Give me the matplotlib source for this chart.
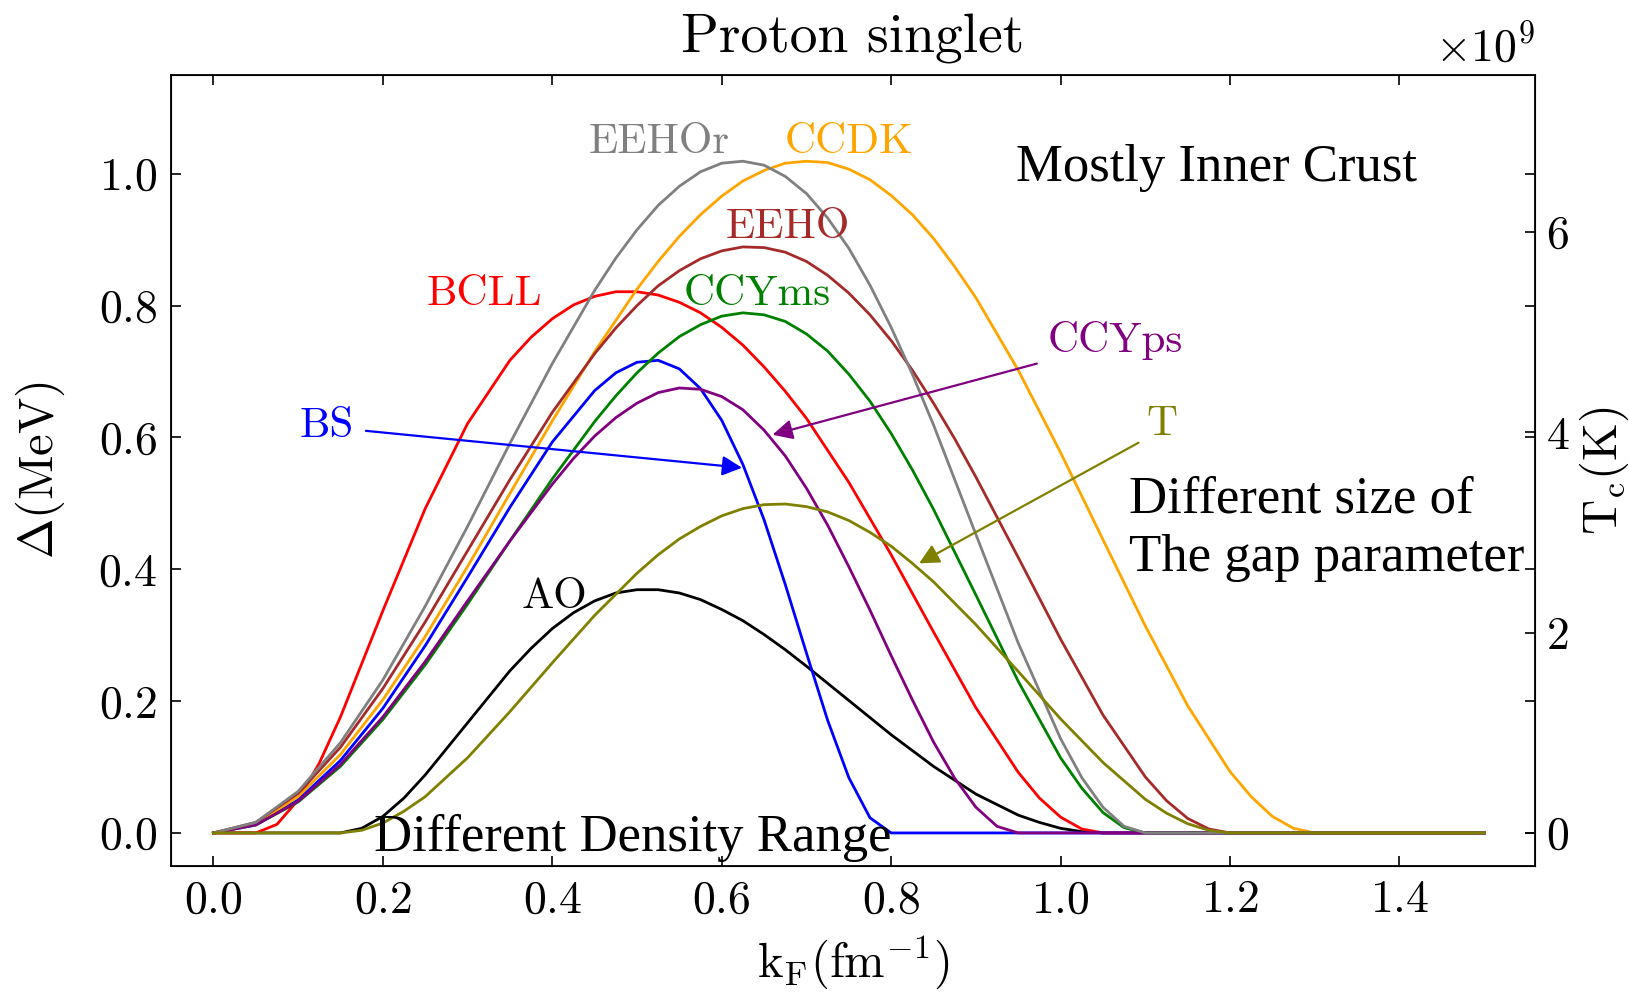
import matplotlib
matplotlib.use('Agg')
import matplotlib.pyplot as plt
from matplotlib.ticker import MultipleLocator

plt.rcParams['font.family'] = 'serif'
plt.rcParams['font.serif'] = ['cmr10']
plt.rcParams['mathtext.fontset'] = 'cm'
plt.rcParams['axes.formatter.use_mathtext'] = True
plt.rcParams['axes.unicode_minus'] = False

# gap curves: kF in fm^-1, Delta in MeV
# (finer steps where the curves bend the most)
kf_ao = [0, 0.15, 0.175, 0.20, 0.225, 0.25, 0.30, 0.35, 0.375, 0.40, 0.425, 0.45, 0.475, 0.50, 0.525, 0.55,
         0.575, 0.60, 0.625, 0.65, 0.675, 0.70, 0.75, 0.80, 0.85, 0.90, 0.95, 0.975, 1.00, 1.025, 1.05, 1.50]
AO = [0, 0, 0.007, 0.025, 0.053, 0.088, 0.167, 0.246, 0.280, 0.310, 0.334, 0.352, 0.364, 0.369, 0.369, 0.364,
      0.354, 0.339, 0.322, 0.301, 0.278, 0.253, 0.201, 0.149, 0.101, 0.059, 0.027, 0.016, 0.007, 0.002, 0, 0]

kf_bcll = [0, 0.05, 0.075, 0.10, 0.125, 0.15, 0.20, 0.25, 0.30, 0.35, 0.375, 0.40, 0.425, 0.45, 0.475, 0.50, 0.525,
           0.55, 0.575, 0.60, 0.625, 0.65, 0.675, 0.70, 0.75, 0.80, 0.85, 0.90, 0.95, 0.975, 1.00, 1.025, 1.05, 1.50]
BCLL = [0, 0, 0.013, 0.050, 0.106, 0.176, 0.337, 0.492, 0.621, 0.717, 0.752, 0.780, 0.801, 0.814, 0.821, 0.821, 0.816,
        0.805, 0.789, 0.767, 0.740, 0.707, 0.670, 0.629, 0.532, 0.422, 0.305, 0.190, 0.092, 0.053, 0.024, 0.006, 0, 0]

kf_bs = [0, 0.05, 0.10, 0.15, 0.20, 0.25, 0.30, 0.35, 0.40, 0.45, 0.475, 0.50, 0.525, 0.55,
         0.575, 0.60, 0.625, 0.65, 0.675, 0.70, 0.725, 0.75, 0.775, 0.80, 1.50]
BS = [0, 0.013, 0.050, 0.110, 0.189, 0.284, 0.388, 0.494, 0.593, 0.671, 0.698, 0.714, 0.717, 0.704,
      0.674, 0.626, 0.559, 0.475, 0.377, 0.273, 0.171, 0.084, 0.023, 0, 0]

kf_ccdk = [0, 0.05, 0.10, 0.15, 0.20, 0.25, 0.30, 0.35, 0.40, 0.45, 0.50, 0.525, 0.55, 0.575, 0.60, 0.625, 0.65,
           0.675, 0.70, 0.725, 0.75, 0.775, 0.80, 0.825, 0.85, 0.875, 0.90, 0.95, 1.00, 1.05, 1.10, 1.15, 1.20,
           1.225, 1.25, 1.275, 1.30, 1.50]
CCDK = [0, 0.014, 0.055, 0.119, 0.202, 0.298, 0.404, 0.515, 0.625, 0.730, 0.825, 0.867, 0.905, 0.938, 0.966, 0.989, 1.005,
        1.016, 1.019, 1.017, 1.007, 0.991, 0.967, 0.938, 0.902, 0.859, 0.812, 0.702, 0.577, 0.445, 0.314, 0.193, 0.093,
        0.055, 0.025, 0.007, 0, 0]

kf_ccyms = [0, 0.05, 0.10, 0.15, 0.20, 0.25, 0.30, 0.35, 0.40, 0.45, 0.475, 0.50, 0.525, 0.55, 0.575, 0.60, 0.625,
            0.65, 0.675, 0.70, 0.725, 0.75, 0.775, 0.80, 0.825, 0.85, 0.90, 0.95, 1.00, 1.025, 1.05, 1.075, 1.10, 1.50]
CCYms = [0, 0.012, 0.047, 0.101, 0.172, 0.255, 0.347, 0.443, 0.537, 0.624, 0.663, 0.698, 0.728, 0.753, 0.771, 0.784, 0.789,
         0.786, 0.776, 0.757, 0.731, 0.696, 0.655, 0.606, 0.551, 0.491, 0.361, 0.230, 0.114, 0.068, 0.031, 0.008, 0, 0]

kf_ccyps = [0, 0.05, 0.10, 0.15, 0.20, 0.25, 0.30, 0.35, 0.40, 0.425, 0.45, 0.475, 0.50, 0.525, 0.55, 0.575, 0.60,
            0.625, 0.65, 0.675, 0.70, 0.725, 0.75, 0.775, 0.80, 0.825, 0.85, 0.875, 0.90, 0.925, 0.95, 1.50]
CCYps = [0, 0.012, 0.048, 0.104, 0.176, 0.260, 0.352, 0.443, 0.529, 0.568, 0.602, 0.630, 0.652, 0.668, 0.675, 0.673, 0.662,
         0.642, 0.611, 0.572, 0.523, 0.467, 0.404, 0.338, 0.269, 0.202, 0.138, 0.083, 0.039, 0.010, 0, 0]

kf_eeho = [0, 0.05, 0.10, 0.15, 0.20, 0.25, 0.30, 0.35, 0.40, 0.45, 0.475, 0.50, 0.525, 0.55, 0.575, 0.60, 0.625,
           0.65, 0.675, 0.70, 0.725, 0.75, 0.775, 0.80, 0.825, 0.85, 0.875, 0.90, 0.95, 1.00, 1.05, 1.10,
           1.125, 1.15, 1.175, 1.20, 1.50]
EEHO = [0, 0.016, 0.060, 0.130, 0.219, 0.320, 0.428, 0.536, 0.638, 0.727, 0.766, 0.800, 0.830, 0.853, 0.871, 0.883, 0.889,
        0.888, 0.881, 0.867, 0.846, 0.819, 0.786, 0.747, 0.702, 0.652, 0.598, 0.540, 0.418, 0.294, 0.179, 0.085,
        0.049, 0.022, 0.006, 0, 0]

kf_eehor = [0, 0.05, 0.10, 0.15, 0.20, 0.25, 0.30, 0.35, 0.40, 0.45, 0.475, 0.50, 0.525, 0.55, 0.575, 0.60, 0.625,
            0.65, 0.675, 0.70, 0.725, 0.75, 0.775, 0.80, 0.825, 0.85, 0.90, 0.95, 1.00, 1.025, 1.05, 1.075, 1.10, 1.50]
EEHOr = [0, 0.016, 0.063, 0.137, 0.232, 0.344, 0.465, 0.591, 0.712, 0.823, 0.872, 0.915, 0.952, 0.981, 1.003, 1.016, 1.019,
         1.013, 0.996, 0.970, 0.933, 0.887, 0.831, 0.767, 0.696, 0.619, 0.453, 0.288, 0.143, 0.084, 0.039, 0.010, 0, 0]

kf_t = [0, 0.15, 0.175, 0.20, 0.225, 0.25, 0.30, 0.35, 0.40, 0.45, 0.50, 0.525, 0.55, 0.575, 0.60, 0.625, 0.65,
        0.675, 0.70, 0.725, 0.75, 0.775, 0.80, 0.825, 0.85, 0.90, 0.95, 1.00, 1.05, 1.10, 1.125, 1.15, 1.175, 1.20, 1.50]
T = [0, 0, 0.004, 0.015, 0.033, 0.055, 0.114, 0.184, 0.258, 0.330, 0.394, 0.422, 0.446, 0.465, 0.481, 0.492, 0.498,
     0.499, 0.495, 0.487, 0.474, 0.456, 0.435, 0.409, 0.381, 0.316, 0.245, 0.173, 0.107, 0.051, 0.030, 0.014, 0.004, 0, 0]

# Tc = 0.567 Delta / k_B  ->  K per MeV
TC_PER_MEV = 6.58e9

fig = plt.figure(figsize=(16.29, 9.93), dpi=100)
ax = fig.add_axes([0.105, 0.128, 0.8373, 0.7966])

curves = [
    (kf_ao, AO, 'black'),
    (kf_bcll, BCLL, 'red'),
    (kf_bs, BS, 'blue'),
    (kf_ccdk, CCDK, 'orange'),
    (kf_ccyms, CCYms, 'green'),
    (kf_ccyps, CCYps, 'purple'),
    (kf_eeho, EEHO, 'brown'),
    (kf_eehor, EEHOr, 'gray'),
    (kf_t, T, 'olive'),
]
for x, y, c in curves:
    ax.plot(x, y, color=c, lw=2.0)

ax.set_xlim(-0.05, 1.56)
ax.set_ylim(-0.05, 1.15)
ax.xaxis.set_major_locator(MultipleLocator(0.2))
ax.yaxis.set_major_locator(MultipleLocator(0.2))

ax2 = ax.twinx()
ax2.set_ylim(-0.05 * TC_PER_MEV, 1.15 * TC_PER_MEV)
ax2.yaxis.set_major_locator(MultipleLocator(2e9))
ax2.yaxis.OFFSETTEXTPAD = 10

ax.tick_params(direction='in', length=7, width=1.2, labelsize=33, pad=10,
               top=True, right=True)
ax2.tick_params(direction='in', length=7, width=1.2, labelsize=33, pad=8)
ax2.yaxis.get_offset_text().set_fontsize(33)
for sp in ax.spines.values():
    sp.set_linewidth(1.3)

ax.set_xlabel(r'$\mathrm{k_F(fm^{-1})}$', fontsize=35, labelpad=9)
ax.set_ylabel(r'$\Delta\mathrm{(MeV)}$', fontsize=35, labelpad=22)
ax2.set_ylabel(r'$\mathrm{T_c(K)}$', fontsize=35, labelpad=6)
ax.set_title('Proton singlet', fontsize=40, pad=16)

# curve labels
labels = [
    ('EEHOr', 0.526, 1.031, 'gray'),
    ('CCDK', 0.750, 1.031, 'orange'),
    ('EEHO', 0.678, 0.903, 'brown'),
    ('BCLL', 0.320, 0.801, 'red'),
    ('CCYms', 0.642, 0.801, 'green'),
    ('CCYps', 1.065, 0.729, 'purple'),
    ('BS', 0.134, 0.600, 'blue'),
    ('T', 1.120, 0.603, 'olive'),
    ('AO', 0.402, 0.341, 'black'),
]
for txt, x, y, c in labels:
    ax.text(x, y, txt, color=c, fontsize=31, ha='center', va='baseline')

# arrows pointing at curves
arrows = [
    ((0.180, 0.610), (0.624, 0.554), 'blue'),
    ((0.972, 0.712), (0.660, 0.604), 'purple'),
    ((1.092, 0.592), (0.833, 0.409), 'olive'),
]
for start, tip, c in arrows:
    ax.annotate('', xy=tip, xytext=start,
                arrowprops=dict(arrowstyle='-|>', color=c, lw=1.6,
                                mutation_scale=30, shrinkA=0, shrinkB=0))

note_font = dict(family='Liberation Serif', fontsize=38, color='black', va='baseline', ha='left')
ax.text(0.947, 0.989, 'Mostly Inner Crust', **note_font)
ax.text(1.081, 0.486, 'Different size of', **note_font)
ax.text(1.081, 0.398, 'The gap parameter', **note_font)
ax.text(0.190, -0.027, 'Different Density Range', **note_font)

fig.savefig('out.png', dpi=100)
